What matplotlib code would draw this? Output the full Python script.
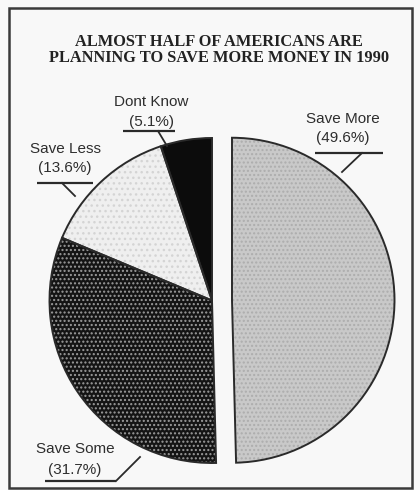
import matplotlib
matplotlib.use("Agg")
import matplotlib.pyplot as plt
from matplotlib.patches import Wedge, Rectangle

# survey answers
answers = ["Save More", "Save Some", "Save Less", "Dont Know"]
shares = [49.6, 31.7, 13.6, 5.1]
pulled_out = [20, 0, 0, 0]          # offset in px
title = "ALMOST HALF OF AMERICANS ARE\nPLANNING TO SAVE MORE MONEY IN 1990"

faces = ["#c9c9c9", "#141414", "#efefef", "#0c0c0c"]
hatches = ["....", "....", "...", None]
hatch_cols = ["#adadad", "#9c9c9c", "#d4d4d4", None]

W, H = 420, 490
CX, CY, R = 212, 300.5, 162.5


def px(x, y):
    # image pixel -> data units (radius = 1)
    return (x - CX) / R, (CY - y) / R


plt.rcParams["hatch.linewidth"] = 1.0

fig = plt.figure(figsize=(W / 100, H / 100), dpi=100, facecolor="#f8f8f8")
ax = fig.add_axes([0, 0, 1, 1])
ax.axis("off")

wedges, _ = ax.pie(shares, startangle=90, counterclock=False, radius=1,
                   explode=[p / R for p in pulled_out], colors=faces,
                   wedgeprops=dict(linewidth=0))
ax.set_xlim(px(0, 0)[0], px(W, 0)[0])
ax.set_ylim(px(0, H)[1], px(0, 0)[1])

for w, h, hc in zip(wedges, hatches, hatch_cols):
    if h:
        ax.add_patch(Wedge(w.center, w.r, w.theta1, w.theta2, facecolor="none",
                           edgecolor=hc, linewidth=0, hatch=h, zorder=3))
    ax.add_patch(Wedge(w.center, w.r, w.theta1, w.theta2, facecolor="none",
                       edgecolor="#2a2a2a", linewidth=1.4, zorder=4))

# labels with underline + leader line (image px)
lab_pos = {
    "Save More": (343, 119, 138, (315, 383, 153), (362, 153, 342, 172)),
    "Save Some": (75, 449, 470, (45, 116, 481), (116, 481, 140, 457)),
    "Save Less": (65, 149, 168, (37, 93, 183), (62, 183, 75, 196)),
    "Dont Know": (151, 102, 122, (123, 175, 131), (158, 131, 167, 146)),
}
for name, val in zip(answers, shares):
    x, y1, y2, ul, ld = lab_pos[name]
    ax.text(*px(x, y1), name, ha="center", va="center", fontsize=11,
            family="Liberation Sans", color="#2e2e2e")
    ax.text(*px(x, y2), f"({val}%)", ha="center", va="center", fontsize=11,
            family="Liberation Sans", color="#2e2e2e")
    xa, ya = px(ul[0], ul[2])
    xb, _ = px(ul[1], ul[2])
    ax.plot([xa, xb], [ya, ya], color="#2a2a2a", lw=1.6, solid_capstyle="butt")
    (lx1, ly1), (lx2, ly2) = px(ld[0], ld[1]), px(ld[2], ld[3])
    ax.plot([lx1, lx2], [ly1, ly2], color="#2a2a2a", lw=1.3)

ax.text(*px(219, 50), title, ha="center", va="center", fontsize=11.8,
        family="Liberation Serif", fontweight="bold", color="#222222",
        linespacing=1.0)

x0, y0 = px(9, 488)
x1, y1 = px(412, 8)
ax.add_patch(Rectangle((x0, y0), x1 - x0, y1 - y0, facecolor="none",
                       edgecolor="#3a3a3a", linewidth=1.8, zorder=5))

fig.savefig("out.png", dpi=100, facecolor=fig.get_facecolor())
